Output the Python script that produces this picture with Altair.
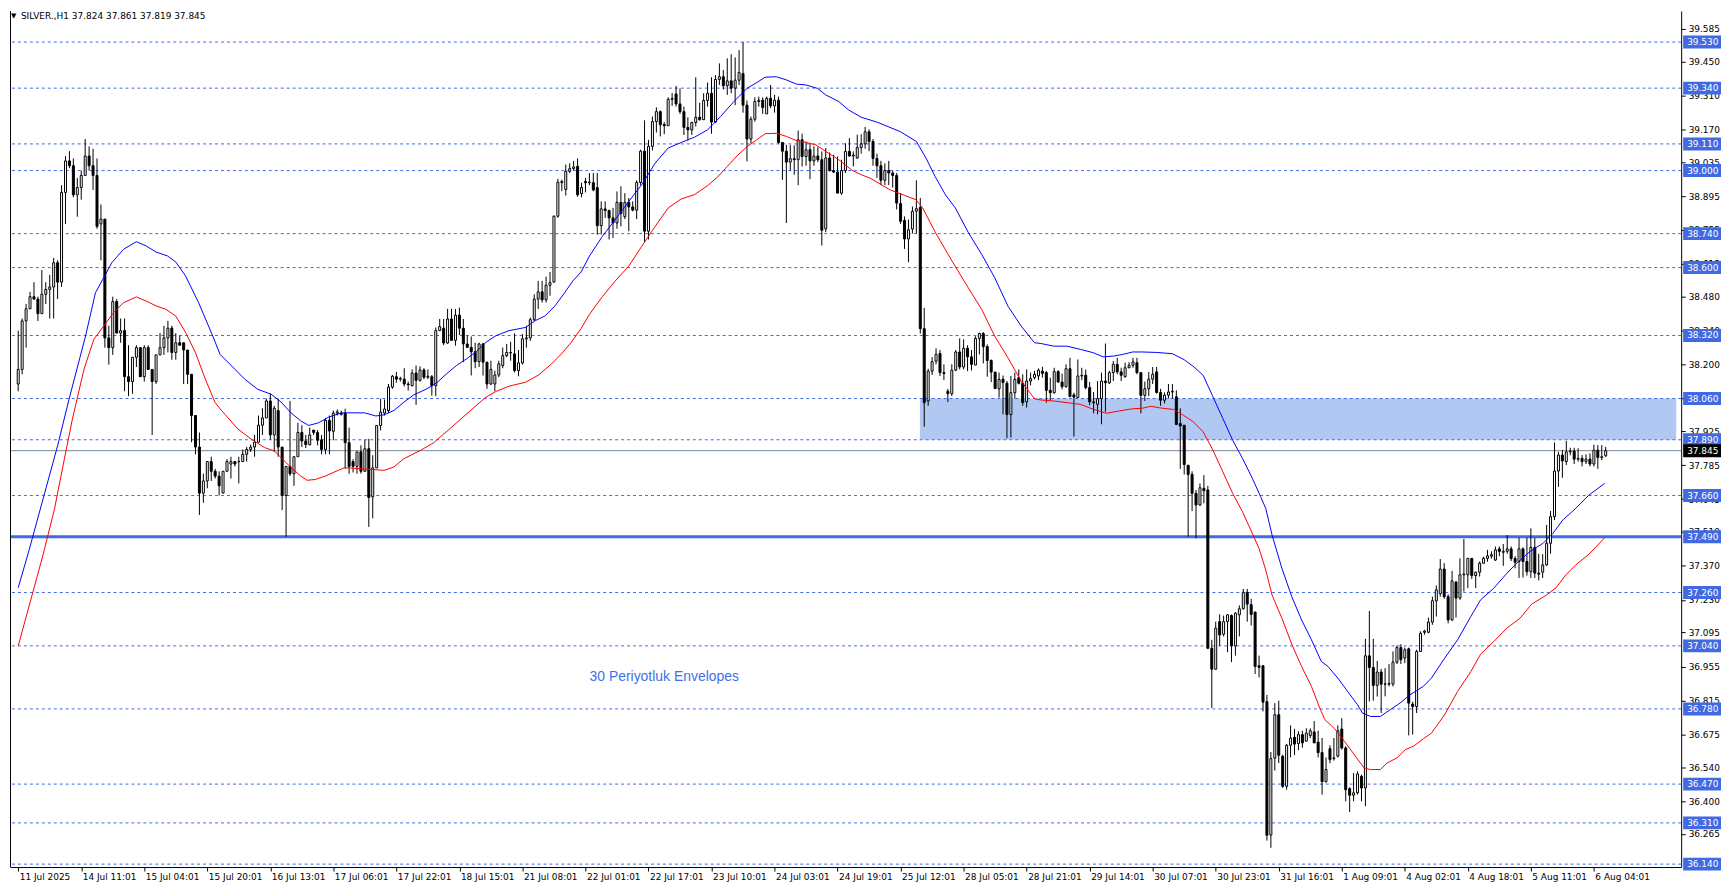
import altair as alt
import pandas as pd

# ---------------- data ----------------
opens = [
 38.12, 38.18, 38.38, 38.43, 38.48, 38.47, 38.41, 38.49, 38.51, 38.52,
 38.62, 38.54, 38.91, 39.04, 39.02, 38.90, 38.93, 38.98, 39.06, 39.02,
 38.98, 38.78, 38.80, 38.31, 38.27, 38.46, 38.33, 38.34, 38.15, 38.13,
 38.23, 38.27, 38.15, 38.27, 38.18, 38.13, 38.24, 38.27, 38.31, 38.35,
 38.25, 38.29, 38.29, 38.26, 38.16, 37.99, 37.86, 37.67, 37.72, 37.80,
 37.76, 37.74, 37.67, 37.76, 37.79, 37.80, 37.80, 37.80, 37.83, 37.85,
 37.86, 37.88, 37.95, 37.98, 38.05, 37.91, 38.01, 37.86, 37.66, 37.78,
 37.75, 37.82, 37.92, 37.885, 37.87, 37.93, 37.92, 37.89, 37.85, 37.97,
 37.925, 38.0, 38.0, 38.0, 37.878, 37.80, 37.78, 37.84, 37.76, 37.853,
 37.655, 37.774, 37.949, 38.0, 38.01, 38.107, 38.15, 38.14, 38.14, 38.12,
 38.113, 38.165, 38.135, 38.178, 38.148, 38.15, 38.113, 38.34, 38.35, 38.289,
 38.388, 38.30, 38.404, 38.35, 38.285, 38.271, 38.253, 38.212, 38.285, 38.21,
 38.12, 38.12, 38.157, 38.196, 38.237, 38.25, 38.244, 38.175, 38.207, 38.306,
 38.31, 38.385, 38.47, 38.50, 38.467, 38.527, 38.54, 38.812, 38.95, 38.922,
 38.997, 39.008, 39.018, 38.905, 38.955, 38.95, 38.95, 38.93, 38.773, 38.842,
 38.835, 38.805, 38.784, 38.869, 38.81, 38.869, 38.85, 38.837, 38.951, 39.08,
 38.75, 39.10, 39.202, 39.243, 39.19, 39.185, 39.294, 39.316, 39.275, 39.243,
 39.178, 39.168, 39.198, 39.22, 39.21, 39.289, 39.319, 39.20, 39.376, 39.387,
 39.35, 39.37, 39.34, 39.373, 39.40, 39.27, 39.13, 39.212, 39.285, 39.29,
 39.234, 39.298, 39.267, 39.29, 39.116, 39.08, 39.035, 39.049, 39.045, 39.127,
 39.058, 39.086, 39.04, 39.06, 39.045, 38.76, 39.052, 39.0, 38.994, 38.907,
 39.0, 39.079, 39.06, 39.052, 39.095, 39.11, 39.16, 39.12, 39.05, 39.02,
 38.96, 39.0, 38.99, 38.98, 38.864, 38.795, 38.718, 38.759, 38.833, 38.848,
 38.348, 38.05, 38.173, 38.214, 38.246, 38.167, 38.09, 38.08, 38.177, 38.252,
 38.19, 38.267, 38.232, 38.198, 38.308, 38.328, 38.274, 38.217, 38.169, 38.10,
 38.14, 38.123, 37.994, 38.084, 38.146, 38.123, 38.046, 38.132, 38.146, 38.153,
 38.173, 38.167, 38.094, 38.084, 38.171, 38.128, 38.109, 38.183, 38.075, 38.064,
 38.153, 38.156, 38.105, 38.046, 38.036, 38.06, 38.132, 38.125, 38.167, 38.201,
 38.17, 38.15, 38.187, 38.197, 38.208, 38.167, 38.073, 38.10, 38.14, 38.17,
 38.085, 38.053, 38.074, 38.087, 38.067, 37.957, 37.95, 37.785, 37.747, 37.669,
 37.621, 37.69, 37.683, 37.03, 36.944, 37.14, 37.088, 37.14, 37.165, 37.04,
 37.168, 37.193, 37.261, 37.21, 37.179, 36.958, 36.958, 36.81, 36.26, 36.577,
 36.756, 36.585, 36.461, 36.63, 36.663, 36.637, 36.674, 36.647, 36.67, 36.685,
 36.643, 36.60, 36.48, 36.616, 36.575, 36.585, 36.697, 36.619, 36.451, 36.424,
 36.434, 36.502, 36.454, 36.999, 36.951, 36.877, 36.932, 36.883, 36.882, 36.882,
 36.973, 37.033, 36.99, 37.028, 36.80, 36.79, 37.017, 37.096, 37.096, 37.138,
 37.226, 37.255, 37.357, 37.243, 37.147, 37.303, 37.237, 37.333, 37.333, 37.401,
 37.33, 37.344, 37.381, 37.401, 37.41, 37.394, 37.44, 37.426, 37.43, 37.44,
 37.40, 37.388, 37.44, 37.388, 37.346, 37.446, 37.34, 37.344, 37.374, 37.463,
 37.573, 37.761, 37.827, 37.80, 37.84, 37.843, 37.81, 37.813, 37.80, 37.81,
 37.79, 37.847, 37.817, 37.824,
]

highs = [
 38.34, 38.39, 38.45, 38.50, 38.54, 38.48, 38.59, 38.54, 38.57, 38.64,
 38.63, 38.94, 39.06, 39.08, 39.05, 38.97, 39.00, 39.13, 39.10, 39.09,
 39.05, 38.86, 38.80, 38.36, 38.48, 38.47, 38.39, 38.39, 38.28, 38.23,
 38.28, 38.27, 38.28, 38.28, 38.18, 38.24, 38.33, 38.36, 38.38, 38.36,
 38.33, 38.32, 38.29, 38.26, 38.16, 37.99, 37.92, 37.75, 37.80, 37.82,
 37.77, 37.76, 37.76, 37.81, 37.82, 37.80, 37.82, 37.85, 37.86, 37.87,
 37.91, 37.99, 38.02, 38.06, 38.08, 38.03, 38.06, 37.86, 37.78, 38.05,
 37.82, 37.96, 37.95, 37.91, 37.94, 37.93, 37.93, 37.91, 37.98, 37.99,
 38.01, 38.015, 38.01, 38.018, 37.94, 37.81, 37.84, 37.867, 37.89, 37.894,
 37.826, 37.949, 38.059, 38.056, 38.12, 38.157, 38.17, 38.15, 38.185, 38.13,
 38.18, 38.196, 38.193, 38.185, 38.18, 38.157, 38.353, 38.388, 38.388, 38.43,
 38.43, 38.429, 38.435, 38.388, 38.32, 38.316, 38.29, 38.29, 38.29, 38.21,
 38.216, 38.175, 38.216, 38.27, 38.285, 38.294, 38.329, 38.26, 38.326, 38.36,
 38.394, 38.49, 38.545, 38.545, 38.563, 38.582, 38.815, 38.966, 38.963, 39.025,
 39.03, 39.04, 39.05, 38.95, 38.97, 38.99, 38.99, 38.99, 38.873, 38.873,
 38.839, 38.846, 38.914, 38.935, 38.907, 38.887, 38.873, 38.96, 39.086, 39.207,
 39.127, 39.223, 39.261, 39.248, 39.20, 39.302, 39.32, 39.349, 39.339, 39.264,
 39.22, 39.202, 39.385, 39.28, 39.319, 39.363, 39.385, 39.394, 39.442, 39.415,
 39.463, 39.48, 39.467, 39.497, 39.53, 39.289, 39.223, 39.302, 39.305, 39.302,
 39.305, 39.353, 39.312, 39.305, 39.116, 39.106, 39.106, 39.104, 39.165, 39.152,
 39.12, 39.113, 39.10, 39.097, 39.079, 39.093, 39.075, 39.065, 39.058, 39.045,
 39.113, 39.134, 39.079, 39.148, 39.15, 39.18, 39.17, 39.13, 39.07, 39.04,
 39.03, 39.04, 39.0, 38.99, 38.907, 38.811, 38.798, 38.852, 38.96, 38.887,
 38.434, 38.183, 38.231, 38.267, 38.26, 38.201, 38.10, 38.201, 38.26, 38.308,
 38.304, 38.28, 38.26, 38.317, 38.331, 38.334, 38.283, 38.221, 38.17, 38.167,
 38.155, 38.132, 38.153, 38.167, 38.18, 38.16, 38.18, 38.167, 38.174, 38.184,
 38.191, 38.174, 38.146, 38.187, 38.177, 38.163, 38.201, 38.228, 38.084, 38.221,
 38.187, 38.18, 38.128, 38.087, 38.132, 38.167, 38.287, 38.174, 38.215, 38.228,
 38.187, 38.208, 38.21, 38.228, 38.228, 38.167, 38.13, 38.17, 38.19, 38.19,
 38.10, 38.085, 38.12, 38.12, 38.094, 38.02, 37.95, 37.785, 37.76, 37.683,
 37.71, 37.744, 37.70, 37.065, 37.14, 37.17, 37.165, 37.17, 37.17, 37.179,
 37.207, 37.275, 37.275, 37.234, 37.182, 37.0, 36.96, 36.838, 36.602, 36.804,
 36.814, 36.591, 36.636, 36.712, 36.698, 36.688, 36.69, 36.70, 36.70, 36.73,
 36.69, 36.66, 36.58, 36.63, 36.66, 36.712, 36.742, 36.626, 36.457, 36.516,
 36.523, 36.509, 37.069, 37.184, 37.069, 36.978, 36.945, 36.948, 36.965, 37.017,
 37.042, 37.047, 37.033, 37.033, 36.81, 37.024, 37.10, 37.106, 37.157, 37.243,
 37.289, 37.398, 37.381, 37.253, 37.349, 37.308, 37.401, 37.481, 37.401, 37.401,
 37.346, 37.388, 37.408, 37.436, 37.43, 37.45, 37.45, 37.46, 37.497, 37.45,
 37.41, 37.486, 37.446, 37.486, 37.525, 37.485, 37.42, 37.418, 37.539, 37.596,
 37.879, 37.84, 37.848, 37.885, 37.857, 37.857, 37.855, 37.827, 37.83, 37.834,
 37.87, 37.868, 37.868, 37.861,
]

lows = [
 38.09, 38.16, 38.27, 38.43, 38.47, 38.38, 38.41, 38.45, 38.39, 38.39,
 38.47, 38.52, 38.78, 39.01, 38.89, 38.81, 38.88, 38.98, 39.00, 38.92,
 38.76, 38.63, 38.27, 38.20, 38.24, 38.33, 38.29, 38.09, 38.07, 38.08,
 38.19, 38.15, 38.13, 38.18, 37.91, 38.12, 38.24, 38.24, 38.25, 38.22,
 38.22, 38.28, 38.12, 38.12, 37.88, 37.83, 37.58, 37.63, 37.69, 37.72,
 37.73, 37.66, 37.67, 37.76, 37.73, 37.78, 37.71, 37.80, 37.80, 37.84,
 37.82, 37.88, 37.91, 37.98, 37.89, 37.84, 37.82, 37.60, 37.49, 37.74,
 37.70, 37.82, 37.86, 37.856, 37.867, 37.91, 37.867, 37.83, 37.83, 37.83,
 37.888, 37.99, 37.99, 37.77, 37.75, 37.755, 37.75, 37.75, 37.76, 37.531,
 37.566, 37.774, 37.929, 37.99, 38.0, 38.10, 38.125, 38.13, 38.11, 38.093,
 38.11, 38.034, 38.13, 38.14, 38.14, 38.072, 38.07, 38.34, 38.28, 38.285,
 38.30, 38.278, 38.322, 38.21, 38.27, 38.155, 38.185, 38.19, 38.155, 38.10,
 38.116, 38.09, 38.148, 38.185, 38.23, 38.216, 38.168, 38.152, 38.20, 38.27,
 38.298, 38.38, 38.429, 38.456, 38.456, 38.484, 38.54, 38.805, 38.915, 38.897,
 38.99, 39.0, 38.892, 38.89, 38.91, 38.94, 38.915, 38.736, 38.736, 38.805,
 38.716, 38.722, 38.76, 38.77, 38.80, 38.75, 38.832, 38.80, 38.94, 38.705,
 38.716, 39.083, 39.157, 39.141, 39.15, 39.185, 39.267, 39.264, 39.234, 39.147,
 39.124, 39.147, 39.182, 39.206, 39.21, 39.264, 39.152, 39.196, 39.353, 39.335,
 39.312, 39.319, 39.27, 39.353, 39.239, 39.038, 39.113, 39.202, 39.264, 39.234,
 39.234, 39.257, 39.239, 39.11, 38.962, 38.784, 39.0, 38.983, 38.94, 39.017,
 39.02, 38.965, 39.02, 39.035, 38.691, 38.746, 38.996, 38.99, 38.907, 38.90,
 38.99, 39.058, 39.017, 39.049, 39.07, 39.09, 39.08, 39.02, 38.97, 38.94,
 38.94, 38.94, 38.93, 38.84, 38.78, 38.677, 38.622, 38.74, 38.74, 38.328,
 37.944, 38.03, 38.157, 38.201, 38.153, 38.136, 38.046, 38.07, 38.173, 38.18,
 38.18, 38.173, 38.176, 38.198, 38.242, 38.205, 38.15, 38.128, 38.10, 38.064,
 37.995, 37.896, 37.899, 38.06, 38.118, 38.03, 38.023, 38.114, 38.139, 38.136,
 38.146, 38.043, 38.054, 38.08, 38.125, 38.098, 38.105, 38.066, 37.903, 38.064,
 38.136, 38.098, 38.032, 37.999, 37.995, 37.954, 38.005, 38.12, 38.132, 38.16,
 38.132, 38.146, 38.185, 38.187, 38.16, 37.999, 38.05, 38.07, 38.12, 38.08,
 38.03, 38.04, 38.06, 38.06, 37.95, 37.77, 37.747, 37.49, 37.596, 37.483,
 37.618, 37.628, 37.028, 36.784, 36.941, 37.04, 37.079, 37.014, 36.973, 37.0,
 37.079, 37.19, 37.14, 37.124, 36.924, 36.91, 36.77, 36.237, 36.207, 36.526,
 36.557, 36.454, 36.447, 36.58, 36.589, 36.61, 36.62, 36.646, 36.66, 36.64,
 36.58, 36.427, 36.476, 36.556, 36.567, 36.58, 36.612, 36.399, 36.355, 36.399,
 36.427, 36.399, 36.379, 36.811, 36.814, 36.831, 36.763, 36.832, 36.873, 36.873,
 36.965, 36.965, 36.969, 36.671, 36.674, 36.763, 37.015, 37.086, 37.092, 37.127,
 37.161, 37.243, 37.234, 37.133, 37.143, 37.157, 37.23, 37.264, 37.278, 37.316,
 37.278, 37.326, 37.38, 37.387, 37.40, 37.39, 37.41, 37.37, 37.42, 37.39,
 37.36, 37.32, 37.322, 37.33, 37.32, 37.32, 37.31, 37.32, 37.37, 37.42,
 37.559, 37.696, 37.733, 37.786, 37.826, 37.79, 37.80, 37.78, 37.79, 37.78,
 37.78, 37.77, 37.806, 37.819,
]

closes = [
 38.18, 38.38, 38.43, 38.48, 38.47, 38.41, 38.49, 38.51, 38.52, 38.62,
 38.54, 38.91, 39.04, 39.02, 38.90, 38.93, 38.98, 39.06, 39.02, 38.98,
 38.77, 38.80, 38.31, 38.27, 38.46, 38.33, 38.34, 38.15, 38.13, 38.23,
 38.27, 38.15, 38.27, 38.18, 38.13, 38.24, 38.27, 38.31, 38.35, 38.25,
 38.29, 38.28, 38.26, 38.16, 37.99, 37.86, 37.67, 37.72, 37.80, 37.76,
 37.74, 37.70, 37.76, 37.80, 37.80, 37.79, 37.80, 37.83, 37.85, 37.86,
 37.88, 37.95, 37.98, 38.05, 37.91, 38.02, 37.86, 37.66, 37.78, 37.75,
 37.82, 37.92, 37.885, 37.87, 37.91, 37.92, 37.888, 37.85, 37.97, 37.926,
 38.0, 38.005, 37.995, 37.878, 37.78, 37.78, 37.84, 37.76, 37.853, 37.652,
 37.774, 37.949, 38.004, 38.017, 38.107, 38.152, 38.14, 38.143, 38.12, 38.117,
 38.165, 38.135, 38.178, 38.148, 38.152, 38.113, 38.34, 38.357, 38.289, 38.388,
 38.30, 38.404, 38.35, 38.285, 38.271, 38.253, 38.212, 38.285, 38.21, 38.12,
 38.18, 38.157, 38.203, 38.237, 38.25, 38.248, 38.175, 38.207, 38.306, 38.31,
 38.385, 38.47, 38.50, 38.467, 38.527, 38.538, 38.812, 38.952, 38.955, 38.997,
 39.008, 39.015, 38.90, 38.93, 38.95, 38.952, 38.92, 38.773, 38.842, 38.835,
 38.805, 38.784, 38.869, 38.823, 38.869, 38.85, 38.837, 38.951, 39.08, 38.75,
 39.10, 39.202, 39.243, 39.189, 39.185, 39.294, 39.297, 39.275, 39.243, 39.178,
 39.168, 39.198, 39.22, 39.21, 39.289, 39.319, 39.20, 39.376, 39.387, 39.35,
 39.37, 39.34, 39.373, 39.404, 39.27, 39.13, 39.212, 39.285, 39.29, 39.26,
 39.298, 39.267, 39.29, 39.116, 39.08, 39.035, 39.049, 39.045, 39.127, 39.058,
 39.086, 39.04, 39.06, 39.045, 38.754, 39.052, 39.0, 38.994, 38.907, 39.0,
 39.079, 39.06, 39.064, 39.095, 39.11, 39.16, 39.12, 39.05, 39.02, 38.96,
 39.0, 38.99, 38.98, 38.866, 38.791, 38.718, 38.756, 38.832, 38.843, 38.348,
 38.043, 38.173, 38.212, 38.242, 38.167, 38.163, 38.08, 38.177, 38.252, 38.19,
 38.267, 38.232, 38.201, 38.308, 38.328, 38.274, 38.217, 38.169, 38.101, 38.139,
 38.126, 37.994, 38.084, 38.139, 38.123, 38.043, 38.132, 38.142, 38.16, 38.177,
 38.164, 38.094, 38.084, 38.171, 38.128, 38.109, 38.183, 38.068, 38.066, 38.153,
 38.156, 38.105, 38.046, 38.043, 38.06, 38.132, 38.125, 38.167, 38.201, 38.17,
 38.156, 38.187, 38.197, 38.211, 38.167, 38.073, 38.10, 38.14, 38.16, 38.085,
 38.053, 38.074, 38.087, 38.09, 37.953, 37.947, 37.788, 37.747, 37.669, 37.621,
 37.692, 37.68, 37.03, 36.944, 37.113, 37.085, 37.14, 37.168, 37.04, 37.175,
 37.193, 37.261, 37.212, 37.17, 36.955, 36.951, 36.808, 36.259, 36.575, 36.756,
 36.589, 36.461, 36.63, 36.66, 36.635, 36.674, 36.64, 36.68, 36.69, 36.64,
 36.60, 36.48, 36.53, 36.571, 36.578, 36.69, 36.619, 36.447, 36.424, 36.434,
 36.512, 36.454, 36.999, 36.951, 36.877, 36.932, 36.882, 36.882, 36.885, 36.973,
 37.033, 36.983, 37.024, 36.804, 36.79, 37.017, 37.092, 37.101, 37.138, 37.226,
 37.271, 37.357, 37.243, 37.147, 37.308, 37.237, 37.333, 37.336, 37.401, 37.33,
 37.344, 37.381, 37.401, 37.411, 37.416, 37.436, 37.43, 37.43, 37.44, 37.40,
 37.385, 37.44, 37.388, 37.346, 37.446, 37.34, 37.336, 37.374, 37.463, 37.573,
 37.761, 37.827, 37.803, 37.84, 37.843, 37.81, 37.813, 37.80, 37.81, 37.79,
 37.847, 37.817, 37.82, 37.845,
]

# envelope (30) upper (blue) and lower (red) lines: (bar index, price)
upper_env = [
 (0, 37.28), (2.5, 37.42), (10, 37.865), (12.9, 38.057), (17.1, 38.318), (19.6, 38.496),
 (21.7, 38.558), (23.75, 38.62), (26.7, 38.675), (30, 38.707), (32.5, 38.689), (35, 38.664),
 (37.9, 38.648), (40, 38.623), (42.5, 38.565), (45.8, 38.455), (49.2, 38.325), (51.25, 38.242),
 (54.2, 38.194), (57.5, 38.14), (60.8, 38.098), (64.2, 38.078), (66.7, 38.046), (69.2, 38.002),
 (71.7, 37.968), (73.75, 37.949), (76.25, 37.96), (78.75, 37.983), (82.1, 38.001), (87.9, 38.001),
 (90.8, 37.988), (92.9, 37.993), (95.4, 38.011), (97.9, 38.045), (100.4, 38.075), (103.75, 38.10),
 (106.25, 38.125), (108.75, 38.162), (111.25, 38.196), (113.75, 38.223), (116.25, 38.253),
 (118.75, 38.292), (121.25, 38.319), (124.6, 38.34), (128.75, 38.353), (131.25, 38.381),
 (133.75, 38.401), (136.25, 38.442), (138.75, 38.497), (140.8, 38.545), (142.9, 38.582),
 (145, 38.647), (148.3, 38.729), (151.7, 38.801), (155, 38.873), (158.3, 38.942), (161.7, 39.031),
 (165, 39.093), (168.3, 39.116), (171.7, 39.138), (175, 39.168), (178.3, 39.223), (181.7, 39.285),
 (185, 39.339), (187.5, 39.363), (189.6, 39.385), (192.5, 39.387), (195, 39.374), (197.5, 39.357),
 (200, 39.353), (202.9, 39.339), (205, 39.312), (208.3, 39.285), (210.8, 39.25), (214, 39.22),
 (218, 39.20), (224, 39.16), (228, 39.12), (230.5, 39.05), (232.75, 38.976), (235.4, 38.90),
 (237.9, 38.846), (241.25, 38.743), (244.6, 38.654), (247.9, 38.558), (251.25, 38.441),
 (254.6, 38.359), (258, 38.29), (259.6, 38.287), (262.9, 38.276), (266.25, 38.276), (269.6, 38.263),
 (272.9, 38.249), (275.4, 38.232), (278, 38.235), (280.4, 38.242), (282.9, 38.252), (285.4, 38.252),
 (289, 38.25), (293, 38.245), (296, 38.22), (298.5, 38.19), (300.8, 38.156), (303.3, 38.067),
 (305.8, 37.978), (308.3, 37.888), (310.8, 37.813), (313.3, 37.731), (315.4, 37.655),
 (316.7, 37.607), (318.3, 37.497), (320.8, 37.36), (323.3, 37.243), (325.8, 37.147),
 (328.3, 37.065), (330.8, 36.976), (332.5, 36.955), (335, 36.907), (337.5, 36.852), (340, 36.797),
 (341.25, 36.763), (343.3, 36.749), (345.8, 36.749), (348.3, 36.777), (350.8, 36.804),
 (353.3, 36.838), (356.7, 36.873), (358.75, 36.907), (362.1, 36.989), (365.4, 37.065),
 (368.75, 37.161), (371.25, 37.23), (374.6, 37.278), (377.9, 37.339), (380.4, 37.381),
 (383.75, 37.429), (387.1, 37.463), (389.6, 37.504), (392.1, 37.559), (395.4, 37.607),
 (398.75, 37.662), (402.75, 37.71),
]

lower_env = [
 (0, 37.04), (6.25, 37.412), (9.2, 37.604), (11.7, 37.81), (13.75, 37.975), (16.7, 38.181),
 (19.2, 38.304), (21.7, 38.359), (24.2, 38.414), (26.7, 38.455), (30, 38.479), (32.5, 38.462),
 (35, 38.442), (37.5, 38.428), (40, 38.40), (42.5, 38.332), (45, 38.249), (47.5, 38.14),
 (50, 38.043), (51.7, 38.009), (55.8, 37.934), (59.2, 37.892), (62.5, 37.858), (65, 37.844),
 (66.7, 37.817), (69.2, 37.776), (71.7, 37.741), (73.3, 37.723), (75.4, 37.726), (77.9, 37.74),
 (81.25, 37.764), (82.9, 37.775), (92.9, 37.764), (95.4, 37.778), (97.9, 37.812), (102.1, 37.846),
 (105.4, 37.877), (107.1, 37.901), (109.6, 37.936), (112.9, 37.983), (116.25, 38.031),
 (118.75, 38.066), (121.25, 38.089), (124.6, 38.111), (128.75, 38.127), (132.1, 38.157),
 (135.4, 38.203), (137.9, 38.244), (140.4, 38.292), (142.9, 38.349), (145, 38.407), (148.3, 38.48),
 (151.7, 38.548), (155, 38.606), (158.3, 38.688), (161.7, 38.77), (165, 38.846), (168.3, 38.883),
 (171.7, 38.901), (175, 38.938), (177.5, 38.973), (180, 39.017), (182.5, 39.061), (185, 39.099),
 (187.5, 39.127), (189.6, 39.152), (192.5, 39.154), (195, 39.141), (197.5, 39.124), (200, 39.116),
 (202.5, 39.106), (205, 39.079), (208.3, 39.045), (211.7, 39.001), (214, 38.983), (216.25, 38.969),
 (221.25, 38.921), (227.9, 38.88), (229.6, 38.846), (232.9, 38.743), (237.1, 38.626),
 (240.4, 38.537), (244.6, 38.427), (247.9, 38.317), (251.25, 38.228), (254.6, 38.132),
 (258, 38.059), (259.6, 38.054), (262.9, 38.05), (266.25, 38.043), (269.6, 38.036),
 (272.9, 38.016), (276.25, 37.999), (279.6, 38.009), (282.9, 38.018), (285.4, 38.02),
 (287.5, 38.028), (290, 38.021), (293.3, 38.015), (295.8, 37.991), (298.3, 37.964),
 (300.8, 37.923), (303.3, 37.847), (305.8, 37.758), (308.3, 37.669), (310.8, 37.593),
 (312.9, 37.518), (315, 37.442), (316.7, 37.353), (318.3, 37.25), (320.8, 37.154),
 (323.3, 37.047), (325.8, 36.955), (328.3, 36.873), (330.4, 36.784), (331.7, 36.736),
 (334.2, 36.698), (336.7, 36.646), (339.2, 36.591), (341.7, 36.536), (343.3, 36.53),
 (345.8, 36.53), (347.5, 36.557), (350, 36.578), (352.1, 36.612), (354.2, 36.626),
 (356.7, 36.657), (358.75, 36.68), (362.1, 36.756), (365.4, 36.852), (368.75, 36.934),
 (371.25, 37.006), (374.6, 37.058), (377.9, 37.113), (381.25, 37.154), (384.2, 37.212),
 (388, 37.25), (390.4, 37.28), (392.9, 37.333), (395.4, 37.374), (398.75, 37.418),
 (402.75, 37.486),
]

level_prices = [39.530, 39.340, 39.110, 39.000, 38.740, 38.600, 38.320, 38.060, 37.890,
                37.660, 37.260, 37.040, 36.780, 36.470, 36.310, 36.140]
support_price = 37.490
bid_price = 37.845
zone = {"start": 228.9, "low": 37.890, "high": 38.060}

price_ticks = [39.585, 39.450, 39.310, 39.170, 39.035, 38.895, 38.755, 38.615, 38.480,
               38.340, 38.200, 38.060, 37.925, 37.785, 37.645, 37.510, 37.370, 37.230,
               37.095, 36.955, 36.815, 36.675, 36.540, 36.400, 36.265]

time_labels = ['11 Jul 2025', '14 Jul 11:01', '15 Jul 04:01', '15 Jul 20:01', '16 Jul 13:01',
               '17 Jul 06:01', '17 Jul 22:01', '18 Jul 15:01', '21 Jul 08:01', '22 Jul 01:01',
               '22 Jul 17:01', '23 Jul 10:01', '24 Jul 03:01', '24 Jul 19:01', '25 Jul 12:01',
               '28 Jul 05:01', '28 Jul 21:01', '29 Jul 14:01', '30 Jul 07:01', '30 Jul 23:01',
               '31 Jul 16:01', '1 Aug 09:01', '4 Aug 02:01', '4 Aug 18:01', '5 Aug 11:01',
               '6 Aug 04:01']
bars_per_label = 16

symbol = "SILVER.,H1"
annotation = "30 Periyotluk Envelopes"
annotation_pos = (164, 36.912)

assert len(opens) == len(highs) == len(lows) == len(closes) == 404

# ---------------- layout / style ----------------
W, H = 1679, 860
X_DOMAIN = [-0.825, 420.9]
Y_DOMAIN = [36.128, 39.658]
FONT = "DejaVu Sans"
LINE_BLUE = "#4169E1"
ZONE_BLUE = "#B0C8F2"

label_js = "[" + ",".join("'" + s + "'" for s in time_labels) + "]"
x_axis = alt.Axis(values=[bars_per_label * k for k in range(len(time_labels))],
                  labelExpr=label_js + "[round(datum.value/" + str(bars_per_label) + ")]",
                  labelAlign="left", labelBaseline="top", labelPadding=2, labelOffset=1,
                  labelFont=FONT, labelFontSize=9, labelColor="black",
                  tickColor="black", tickSize=4, domainColor="black", grid=False,
                  title=None, labelOverlap=False, labelFlush=False)
y_axis = alt.Axis(orient="right", values=price_ticks, format=".3f",
                  labelFont=FONT, labelFontSize=9, labelColor="black",
                  tickColor="black", tickSize=4, labelPadding=3, domainColor="black",
                  grid=False, title=None, labelOverlap=False, labelFlush=False)


def X(field):
    return alt.X(field, type="quantitative",
                 scale=alt.Scale(domain=X_DOMAIN, nice=False, zero=False), axis=x_axis)


def Y(field):
    return alt.Y(field, type="quantitative",
                 scale=alt.Scale(domain=Y_DOMAIN, nice=False, zero=False), axis=y_axis)


candles = pd.DataFrame({"i": range(len(closes)), "o": opens, "h": highs,
                        "l": lows, "c": closes})
candles["h"] = candles[["h", "o", "c"]].max(axis=1)
candles["l"] = candles[["l", "o", "c"]].min(axis=1)
candles["fillc"] = ["white" if c >= o else "black" for o, c in zip(opens, closes)]

up_df = pd.DataFrame(upper_env, columns=["x", "y"])
lo_df = pd.DataFrame(lower_env, columns=["x", "y"])
levels_df = pd.DataFrame({"p": level_prices})
zone_df = pd.DataFrame({"x0": [zone["start"]], "x1": [X_DOMAIN[1]],
                        "y0": [zone["low"]], "y1": [zone["high"]]})
blue_labels = pd.DataFrame({"p": level_prices + [support_price]})
blue_labels["t"] = [f"{p:.3f}" for p in blue_labels["p"]]
bid_df = pd.DataFrame({"p": [bid_price], "t": [f"{bid_price:.3f}"]})
support_df = pd.DataFrame({"p": [support_price]})
ann_df = pd.DataFrame({"x": [annotation_pos[0]], "y": [annotation_pos[1]], "t": [annotation]})
title_df = pd.DataFrame({"t": [f"{symbol}  {opens[-1]:.3f} {highs[-1]:.3f} "
                               f"{lows[-1]:.3f} {closes[-1]:.3f}"]})
one = pd.DataFrame({"a": [0]})

zone_layer = alt.Chart(zone_df).mark_rect(color=ZONE_BLUE, opacity=1).encode(
    x=X("x0"), x2="x1", y=Y("y0"), y2="y1")
level_layer = alt.Chart(levels_df).mark_rule(color=LINE_BLUE, strokeWidth=1,
                                             strokeDash=[3, 3]).encode(y=Y("p"))
bid_layer = alt.Chart(bid_df).mark_rule(color="#778899", strokeWidth=1).encode(y=Y("p"))
support_layer = alt.Chart(support_df).mark_rule(color=LINE_BLUE, strokeWidth=3).encode(y=Y("p"))
wicks = alt.Chart(candles).mark_rule(color="black", strokeWidth=1).encode(
    x=X("i"), y=Y("l"), y2="h")
bodies = alt.Chart(candles).mark_bar(size=2, stroke="black", strokeWidth=1).encode(
    x=X("i"), y=Y("o"), y2="c", fill=alt.Fill("fillc:N", scale=None))
upper_line = alt.Chart(up_df).mark_line(color="#0000FF", strokeWidth=1).encode(
    x=X("x"), y=Y("y"), order="x:Q")
lower_line = alt.Chart(lo_df).mark_line(color="#FF0000", strokeWidth=1).encode(
    x=X("x"), y=Y("y"), order="x:Q")
left_frame = alt.Chart(one).mark_rule(color="black", strokeWidth=1).encode(
    x=alt.value(0.5), y=alt.value(0), y2=alt.value(H))
ann_layer = alt.Chart(ann_df).mark_text(align="center", baseline="middle",
                                        font="Liberation Sans", fontSize=14,
                                        color="#3F72E6").encode(
    x=X("x"), y=Y("y"), text="t:N")
title_tri = alt.Chart(one).mark_text(text="\u25bc", align="left", baseline="middle",
                                     font=FONT, fontSize=7, color="black").encode(
    x=alt.value(1), y=alt.value(5))
title_layer = alt.Chart(title_df).mark_text(align="left", baseline="middle", font=FONT,
                                            fontSize=9, color="black").encode(
    x=alt.value(11), y=alt.value(5), text="t:N")
lbl_boxes = alt.Chart(blue_labels).mark_rect(color=LINE_BLUE, yOffset=-6.5,
                                             y2Offset=6.5).encode(
    x=alt.value(W + 2), x2=alt.value(W + 40), y=Y("p"), y2=alt.Y2("p"))
lbl_text = alt.Chart(blue_labels).mark_text(align="left", baseline="middle", font=FONT,
                                            fontSize=9, color="white").encode(
    x=alt.value(W + 6), y=Y("p"), text="t:N")
bid_box = alt.Chart(bid_df).mark_rect(color="black", yOffset=-6.5, y2Offset=6.5).encode(
    x=alt.value(W + 2), x2=alt.value(W + 40), y=Y("p"), y2=alt.Y2("p"))
bid_text = alt.Chart(bid_df).mark_text(align="left", baseline="middle", font=FONT,
                                       fontSize=9, color="white").encode(
    x=alt.value(W + 6), y=Y("p"), text="t:N")

chart = alt.layer(
    zone_layer, level_layer, bid_layer, support_layer, wicks, bodies,
    upper_line, lower_line, left_frame, ann_layer, title_tri, title_layer,
    lbl_boxes, lbl_text, bid_box, bid_text,
).properties(width=W, height=H, padding=0, background="white").configure_view(stroke=None)

chart.save("out.html", embed_options={"renderer": "svg", "actions": False})
